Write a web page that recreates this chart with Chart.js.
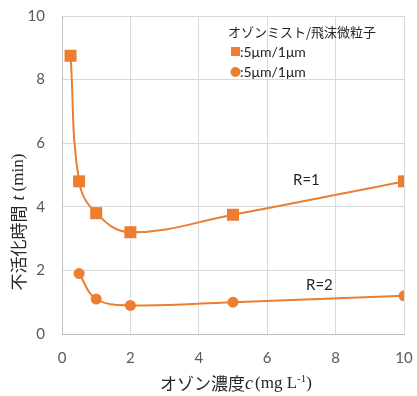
<!DOCTYPE html>
<html>
<head>
<meta charset="utf-8">
<script src="https://cdn.jsdelivr.net/npm/chart.js@4"></script>
<style>
  html, body { margin: 0; padding: 0; background: #fff; }
  #wrap { width: 417px; height: 396px; position: relative; }
</style>
</head>
<body>
<div id="wrap"><canvas id="c" width="417" height="396"></canvas></div>
<script>
// Ozone concentration (mg/L) and inactivation time (min)
const concR1 = [0.25, 0.5, 1, 2, 5, 10];
const timeR1 = [8.75, 4.8, 3.8, 3.2, 3.75, 4.8];
const concR2 = [0.5, 1, 2, 5, 10];
const timeR2 = [1.9, 1.1, 0.9, 1.0, 1.2];
const xTicks = [0, 2, 4, 6, 8, 10];
const yTicks = [0, 2, 4, 6, 8, 10];

const ORANGE = '#ED7D31';
const CJK = '"Noto Sans CJK JP", sans-serif';
const SERIF = '"Liberation Serif", "DejaVu Serif", serif';
const NUM = 'Lato, "Noto Sans", sans-serif';

const pts = (xs, ys) => xs.map((x, i) => ({ x, y: ys[i] }));

// Draws the axis titles, the legend box and the R labels
const annotations = {
  id: 'annotations',
  afterDraw(chart) {
    const ctx = chart.ctx;
    const seq = (parts) => parts.reduce((w, p) => { ctx.font = p.f; return w + ctx.measureText(p.t).width + (p.gap || 0); }, 0);
    const drawSeq = (parts, x0, y) => {
      let x = x0;
      parts.forEach(p => {
        ctx.font = p.f;
        ctx.fillText(p.t, x, y + (p.dy || 0));
        x += ctx.measureText(p.t).width + (p.gap || 0);
      });
    };
    ctx.save();
    ctx.fillStyle = '#262626';
    ctx.textBaseline = 'middle';
    ctx.textAlign = 'left';

    // y axis title
    const yParts = [
      { t: '不活化時間', f: '17px ' + CJK, gap: 5 },
      { t: 't', f: 'italic 18px ' + SERIF, gap: 4 },
      { t: '(min)', f: '17px ' + SERIF }
    ];
    ctx.save();
    ctx.translate(19, 222);
    ctx.rotate(-Math.PI / 2);
    drawSeq(yParts, -seq(yParts) / 2, 0);
    ctx.restore();

    // x axis title
    const xParts = [
      { t: 'オゾン濃度', f: '17px ' + CJK },
      { t: 'c', f: 'italic 18px ' + SERIF, gap: 2 },
      { t: '(mg L', f: '17px ' + SERIF },
      { t: '-1', f: '11px ' + SERIF, dy: -5 },
      { t: ')', f: '17px ' + SERIF }
    ];
    drawSeq(xParts, 236 - seq(xParts) / 2, 384);

    // legend
    ctx.font = '13px ' + CJK;
    ctx.fillText('オゾンミスト/飛沫微粒子', 228, 32);
    ctx.fillStyle = ORANGE;
    ctx.fillRect(231, 47, 9, 9);
    ctx.beginPath();
    ctx.arc(235.5, 72, 5, 0, Math.PI * 2);
    ctx.fill();
    ctx.fillStyle = '#262626';
    ctx.font = '14px ' + NUM;
    ctx.fillText(':5μm/1μm', 240, 52);
    ctx.fillText(':5μm/1μm', 240, 72);

    // series labels
    ctx.font = '15px ' + NUM;
    ctx.fillText('R=1', 293, 180);
    ctx.fillText('R=2', 306, 285);
    ctx.restore();
  }
};

new Chart(document.getElementById('c'), {
  type: 'scatter',
  data: {
    datasets: [
      {
        data: pts(concR1, timeR1),
        showLine: true,
        borderColor: ORANGE,
        backgroundColor: ORANGE,
        borderWidth: 2,
        tension: 0.4,
        pointStyle: 'rect',
        pointRadius: 8.5,
        pointHoverRadius: 8.5,
        pointBorderWidth: 0
      },
      {
        data: pts(concR2, timeR2),
        showLine: true,
        borderColor: ORANGE,
        backgroundColor: ORANGE,
        borderWidth: 2,
        tension: 0.4,
        pointStyle: 'circle',
        pointRadius: 5.5,
        pointHoverRadius: 5.5,
        pointBorderWidth: 0
      }
    ]
  },
  options: {
    responsive: false,
    animation: false,
    devicePixelRatio: 1,
    layout: { padding: { left: 0, top: 16, right: 13, bottom: 0 } },
    plugins: { legend: { display: false }, tooltip: { enabled: false } },
    scales: {
      x: {
        type: 'linear',
        min: 0, max: 10,
        afterBuildTicks: (s) => { s.ticks = xTicks.map(v => ({ value: v })); },
        afterFit: (s) => { s.height = 62; s.paddingLeft = 0; s.paddingRight = 0; },
        grid: { color: '#D9D9D9', tickLength: 0, lineWidth: 1 },
        border: { color: '#BFBFBF', width: 1 },
        ticks: { color: '#595959', font: { family: NUM, size: 15 }, padding: 15, maxRotation: 0 }
      },
      y: {
        type: 'linear',
        min: 0, max: 10,
        afterBuildTicks: (s) => { s.ticks = yTicks.map(v => ({ value: v })); },
        afterFit: (s) => { s.width = 62; s.paddingTop = 0; s.paddingBottom = 0; },
        grid: { color: '#D9D9D9', tickLength: 0, lineWidth: 1 },
        border: { color: '#BFBFBF', width: 1 },
        ticks: { color: '#595959', font: { family: NUM, size: 15 }, padding: 17 }
      }
    }
  },
  plugins: [annotations]
});
</script>
</body>
</html>
